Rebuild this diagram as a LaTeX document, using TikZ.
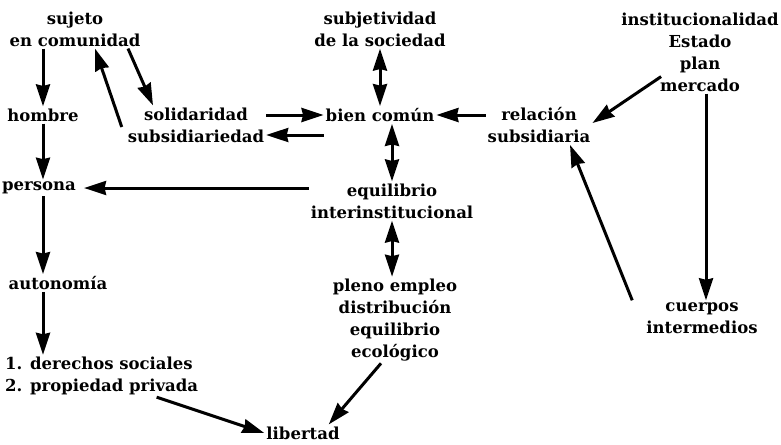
\documentclass[tikz,border=0pt]{standalone}
\usepackage{fontspec}
\setmainfont{DejaVu Serif}
\usetikzlibrary{arrows.meta,calc}
\begin{document}
\begin{tikzpicture}[x=1pt,y=-1pt,
  lbl/.style={font=\bfseries\fontsize{16.5}{22}\selectfont, align=center, inner sep=2pt},
  hd/.tip={Stealth[length=22pt,width=14pt,inset=1.5pt]},
  arr/.style={line width=3pt, -hd},
  darr/.style={line width=3pt, hd-hd}]
\useasboundingbox (0,0) rectangle (781,444);
\node[lbl] (suj) at (75,29) {sujeto\\en comunidad};
\node[lbl] (hom) at (43,115) {hombre};
\node[lbl] (per) at (39,188) {persona};
\node[lbl] (aut) at (58,283) {autonomía};
\node[lbl,align=left,anchor=west] (der) at (3,376) {1. derechos sociales\\2. propiedad privada};
\node[lbl] (lib) at (303,433) {libertad};
\node[lbl] (sol) at (196,125) {solidaridad\\subsidiariedad};
\node[lbl] (bien) at (380,115) {bien común};
\node[lbl] (subj) at (380,29) {subjetividad\\de la sociedad};
\node[lbl] (equ) at (392,201) {equilibrio\\interinstitucional};
\node[lbl] (ple) at (395,320) {pleno empleo\\distribución\\equilibrio\\ecológico};
\node[lbl] (rel) at (539,125) {relación\\subsidiaria};
\node[lbl] (inst) at (700,52) {institucionalidad\\Estado\\plan\\mercado};
\node[lbl] (cue) at (702,318) {cuerpos\\intermedios};
% left column
\draw[arr] (hom.north |- suj.south) -- (hom.north);
\draw[arr] (hom.south) -- (hom.south |- per.north);
\draw[arr] (hom.south |- per.south) -- (hom.south |- aut.north);
\draw[arr] (hom.south |- aut.south) -- (hom.south |- der.north);
% sujeto <-> solidaridad
\draw[arr] ([xshift=-4pt,yshift=-2pt]sol.west) -- ([xshift=20pt]suj.south);
\draw[arr] ([xshift=53pt]suj.south) -- ([xshift=-43pt]sol.north);
% solidaridad <-> bien comun
\coordinate (s1) at ([yshift=10pt]sol.east);
\coordinate (s2) at ([yshift=-10pt]sol.east);
\draw[arr] (s1) -- (s1 -| bien.west);
\draw[arr] (s2 -| bien.west) -- (s2);
% central column
\draw[darr] (subj.south) -- (bien.north);
\draw[darr] (equ.north |- bien.south) -- (equ.north);
\draw[darr] (equ.south) -- (equ.south |- ple.north);
\draw[arr, shorten >=6pt] (per -| equ.west) -- (per.east);
% right side
\draw[arr] (rel.west |- bien) -- (bien.east);
\draw[arr] ([xshift=42pt,yshift=17pt]inst.south west) -- ([yshift=2pt]rel.east);
\coordinate (m1) at ([xshift=6pt]inst.south);
\draw[arr] (m1) -- (m1 |- cue.north);
\draw[arr] ([xshift=-12pt]cue.north west) -- ([xshift=31pt]rel.south);
% to libertad
\draw[arr] ([xshift=55pt]der.south) -- (lib.west);
\draw[arr] ([xshift=-14pt]ple.south) -- ([xshift=-13pt]lib.north east);
\end{tikzpicture}
\end{document}
